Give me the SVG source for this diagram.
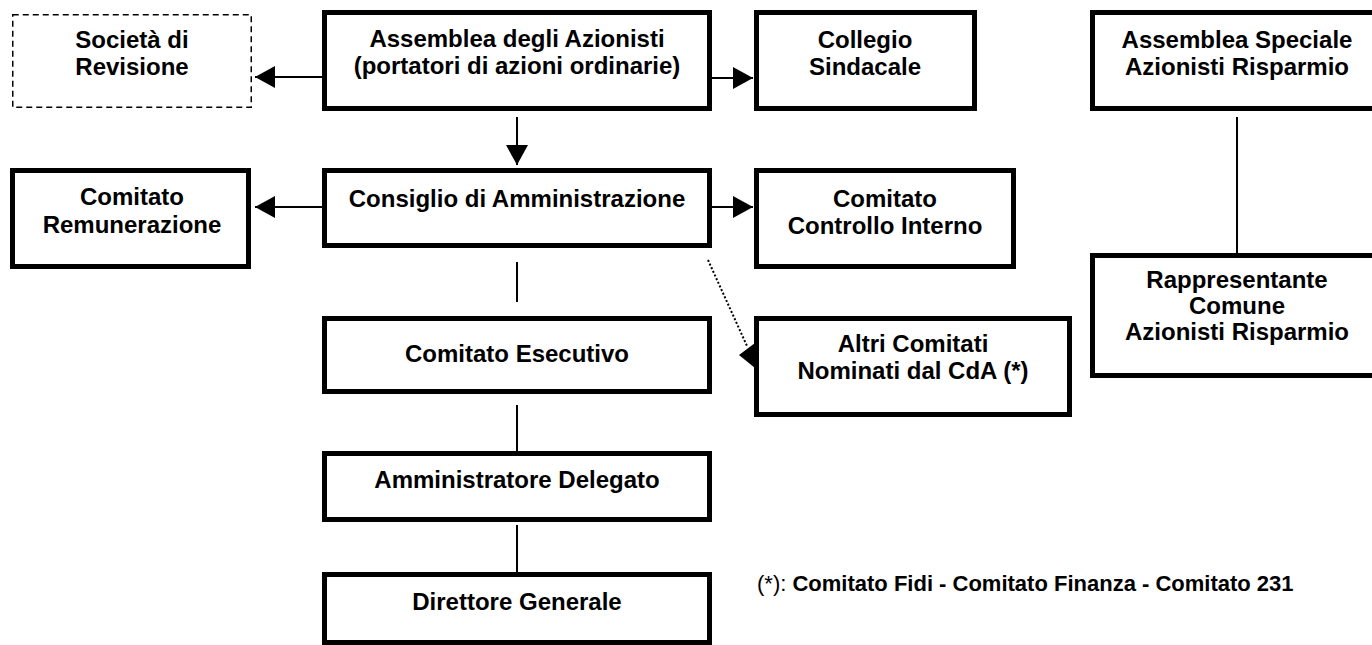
<svg xmlns="http://www.w3.org/2000/svg" width="1372" height="645" viewBox="0 0 1372 645">
<style>
.box{fill:#fff;stroke:#000;stroke-width:5}
.dash{fill:#fff;stroke:#000;stroke-width:1.5;stroke-dasharray:6 4}
.t{font-family:"Liberation Sans",Arial,sans-serif;font-weight:bold;font-size:24px;fill:#000;text-anchor:middle}
.ln{stroke:#000;stroke-width:2;fill:none}
.dot{stroke:#000;stroke-width:2;stroke-dasharray:2 2;fill:none}
.fn{font-family:"Liberation Sans",Arial,sans-serif;font-size:22px;fill:#000}
</style>
<defs>
<marker id="ah" markerUnits="userSpaceOnUse" markerWidth="22" markerHeight="22" refX="20" refY="11" orient="auto">
<path d="M0,0 L20,11 L0,22 Z" fill="#000"/>
</marker>
</defs>
<rect width="1372" height="645" fill="#fff"/>
<g id="connectors">
<line class="ln" x1="322" y1="77" x2="255" y2="77" marker-end="url(#ah)"/>
<line class="ln" x1="712" y1="78" x2="753" y2="78" marker-end="url(#ah)"/>
<line class="ln" x1="517" y1="117" x2="517" y2="165" marker-end="url(#ah)"/>
<line class="ln" x1="322" y1="207" x2="255" y2="207" marker-end="url(#ah)"/>
<line class="ln" x1="712" y1="207" x2="753" y2="207" marker-end="url(#ah)"/>
<line class="ln" x1="517" y1="262" x2="517" y2="302"/>
<line class="ln" x1="517" y1="405" x2="517" y2="451"/>
<line class="ln" x1="517" y1="525" x2="517" y2="572"/>
<line class="ln" x1="1237" y1="117" x2="1237" y2="253"/>
<line class="dot" x1="708" y1="260" x2="747" y2="346"/>
<polygon points="739,355 755,343 755,368" fill="#000"/>
</g>
<g id="societa">
<rect class="dash" x="12.75" y="14.75" width="238.5" height="92.5"/>
<text class="t" x="132" y="48">Società di</text>
<text class="t" x="132" y="75">Revisione</text>
</g>
<g id="assemblea">
<rect class="box" x="324.5" y="12.5" width="385" height="96"/>
<text class="t" x="517" y="47">Assemblea degli Azionisti</text>
<text class="t" x="517" y="74">(portatori di azioni ordinarie)</text>
</g>
<g id="collegio">
<rect class="box" x="756.5" y="12.5" width="218" height="96"/>
<text class="t" x="865" y="48">Collegio</text>
<text class="t" x="865" y="75">Sindacale</text>
</g>
<g id="assemblea-speciale">
<rect class="box" x="1092.5" y="12.5" width="300" height="96"/>
<text class="t" x="1237" y="48">Assemblea Speciale</text>
<text class="t" x="1237" y="75">Azionisti Risparmio</text>
</g>
<g id="remunerazione">
<rect class="box" x="12.5" y="170.5" width="236" height="96"/>
<text class="t" x="132" y="205">Comitato</text>
<text class="t" x="132" y="233">Remunerazione</text>
</g>
<g id="consiglio">
<rect class="box" x="324.5" y="170.5" width="385" height="75"/>
<text class="t" x="517" y="207">Consiglio di Amministrazione</text>
</g>
<g id="controllo">
<rect class="box" x="756.5" y="170.5" width="257" height="96"/>
<text class="t" x="885" y="207">Comitato</text>
<text class="t" x="885" y="234">Controllo Interno</text>
</g>
<g id="esecutivo">
<rect class="box" x="324.5" y="318.5" width="385" height="73"/>
<text class="t" x="517" y="362">Comitato Esecutivo</text>
</g>
<g id="altri">
<rect class="box" x="756.5" y="318.5" width="313" height="96"/>
<text class="t" x="913" y="352">Altri Comitati</text>
<text class="t" x="913" y="379">Nominati dal CdA (*)</text>
</g>
<g id="rappresentante">
<rect class="box" x="1092.5" y="255.5" width="300" height="120"/>
<text class="t" x="1237" y="288">Rappresentante</text>
<text class="t" x="1237" y="314">Comune</text>
<text class="t" x="1237" y="340">Azionisti Risparmio</text>
</g>
<g id="amministratore">
<rect class="box" x="324.5" y="453.5" width="385" height="66"/>
<text class="t" x="517" y="488">Amministratore Delegato</text>
</g>
<g id="direttore">
<rect class="box" x="324.5" y="574.5" width="385" height="68"/>
<text class="t" x="517" y="610">Direttore Generale</text>
</g>
<g id="nota">
<text class="fn" x="757" y="591">(*): <tspan font-weight="bold">Comitato Fidi - Comitato Finanza - Comitato 231</tspan></text>
</g>
</svg>
